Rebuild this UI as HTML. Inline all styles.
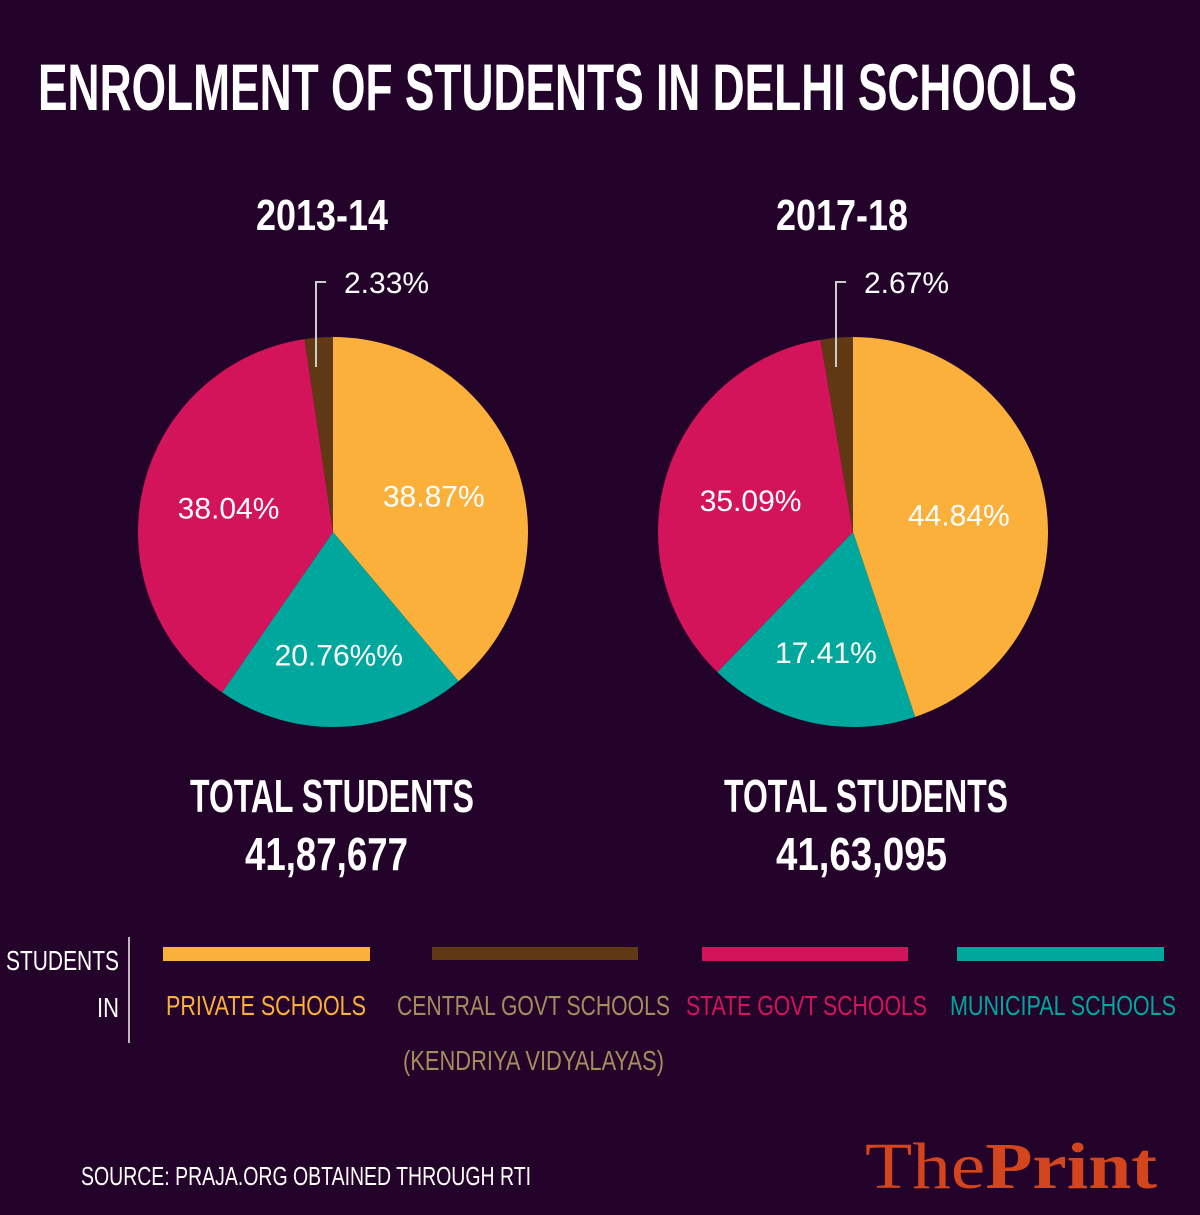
<!DOCTYPE html>
<html><head><meta charset="utf-8"><style>
html,body{margin:0;padding:0;background:#24032b;}
svg{display:block;}
text{font-family:"Liberation Sans",sans-serif;}
</style></head><body>
<svg id="chart" width="1200" height="1215" viewBox="0 0 1200 1215">
<rect width="1200" height="1215" fill="#24032b"/>
<text x="38" y="110" font-size="66" font-weight="bold" fill="#fff" textLength="1039" lengthAdjust="spacingAndGlyphs">ENROLMENT OF STUDENTS IN DELHI SCHOOLS</text>
<g id="pies"></g>
<text x="190" y="812" font-size="46" font-weight="bold" fill="#fff" textLength="284" lengthAdjust="spacingAndGlyphs">TOTAL STUDENTS</text>
<text x="245" y="870" font-size="46" font-weight="bold" fill="#fff" textLength="163" lengthAdjust="spacingAndGlyphs">41,87,677</text>
<text x="724" y="812" font-size="46" font-weight="bold" fill="#fff" textLength="284" lengthAdjust="spacingAndGlyphs">TOTAL STUDENTS</text>
<text x="776" y="870" font-size="46" font-weight="bold" fill="#fff" textLength="171" lengthAdjust="spacingAndGlyphs">41,63,095</text>
<g>
<text x="6" y="970" font-size="28" fill="#fff" textLength="113" lengthAdjust="spacingAndGlyphs">STUDENTS</text>
<text x="97" y="1017" font-size="28" fill="#fff" textLength="22" lengthAdjust="spacingAndGlyphs">IN</text>
<rect x="128" y="937" width="2" height="106" fill="#bbb"/>
<rect x="163" y="947" width="207" height="14" fill="#fbb03b"/>
<rect x="432" y="947" width="206" height="13" fill="#603813"/>
<rect x="702" y="947" width="206" height="14" fill="#d4145a"/>
<rect x="957" y="947" width="207" height="14" fill="#00a79d"/>
<text x="166" y="1015" font-size="28" fill="#fbb03b" textLength="200" lengthAdjust="spacingAndGlyphs">PRIVATE SCHOOLS</text>
<text x="397" y="1015" font-size="28" fill="#a68c5c" textLength="273" lengthAdjust="spacingAndGlyphs">CENTRAL GOVT SCHOOLS</text>
<text x="403" y="1070" font-size="28" fill="#a68c5c" textLength="261" lengthAdjust="spacingAndGlyphs">(KENDRIYA VIDYALAYAS)</text>
<text x="686" y="1015" font-size="28" fill="#d4145a" textLength="241" lengthAdjust="spacingAndGlyphs">STATE GOVT SCHOOLS</text>
<text x="950" y="1015" font-size="28" fill="#00a79d" textLength="226" lengthAdjust="spacingAndGlyphs">MUNICIPAL SCHOOLS</text>
</g>
<text x="81" y="1185" font-size="26" fill="#fff" textLength="450" lengthAdjust="spacingAndGlyphs">SOURCE: PRAJA.ORG OBTAINED THROUGH RTI</text>
<text x="865" y="1188" font-size="66" style="font-family:'Liberation Serif',serif" fill="#d4451e" textLength="292" lengthAdjust="spacingAndGlyphs">The<tspan font-weight="bold">Print</tspan></text>
</svg>
<script>
const categories = ["Private Schools","Municipal Schools","State Govt Schools","Central Govt Schools"];
const years = ["2013-14","2017-18"];
const values2013 = [38.87, 20.76, 38.04, 2.33];
const values2017 = [44.84, 17.41, 35.09, 2.67];
const labels2013 = ["38.87%","20.76%%","38.04%","2.33%"];
const labels2017 = ["44.84%","17.41%","35.09%","2.67%"];
const colors = ["#fbb03b","#00a79d","#d4145a","#603813"];
const NS="http://www.w3.org/2000/svg";
const g=document.getElementById('pies');
function mk(t,a){const e=document.createElementNS(NS,t);for(const k in a)e.setAttribute(k,a[k]);g.appendChild(e);return e;}
function pie(cx,cy,r,vals,labs,year,idx){
  const title=mk('text',{x:cx-11,y:230,'font-size':44,'font-weight':'bold',fill:'#fff','text-anchor':'middle',textLength:132,lengthAdjust:'spacingAndGlyphs'});
  
  
  title.textContent=year;
  const tot=vals.reduce((a,b)=>a+b,0);
  let a0=0;
  vals.forEach((v,i)=>{
    const a1=a0+v/tot*2*Math.PI;
    const x0=cx+r*Math.sin(a0),y0=cy-r*Math.cos(a0),x1=cx+r*Math.sin(a1),y1=cy-r*Math.cos(a1);
    const p=mk('path',{d:`M${cx},${cy}L${x0},${y0}A${r},${r} 0 ${a1-a0>Math.PI?1:0} 1 ${x1},${y1}Z`,fill:colors[i]});
    
    
    const m=(a0+a1)/2;
    if(i<3){
      const lr=r*(i===1?0.63:0.55);
      const t=mk('text',{x:cx+lr*Math.sin(m),y:cy-lr*Math.cos(m)+11,'font-size':30,fill:'#fff','text-anchor':'middle'});
      
      
      t.textContent=labs[i];
    } else {
      const lx=cx-17;
      const l=mk('path',{d:`M${lx},${cy-r+30}V${cy-r-55}H${lx+10}`,stroke:'#ccc','stroke-width':2,fill:'none'});
      
      
      const t=mk('text',{x:lx+28,y:cy-r-44,'font-size':30,fill:'#fff'});
      
      
      t.textContent=labs[i];
    }
    a0=a1;
  });
}
pie(333,532,195,values2013,labels2013,years[0],'2013');
pie(853,532,195,values2017,labels2017,years[1],'2017');
</script>
</body></html>
